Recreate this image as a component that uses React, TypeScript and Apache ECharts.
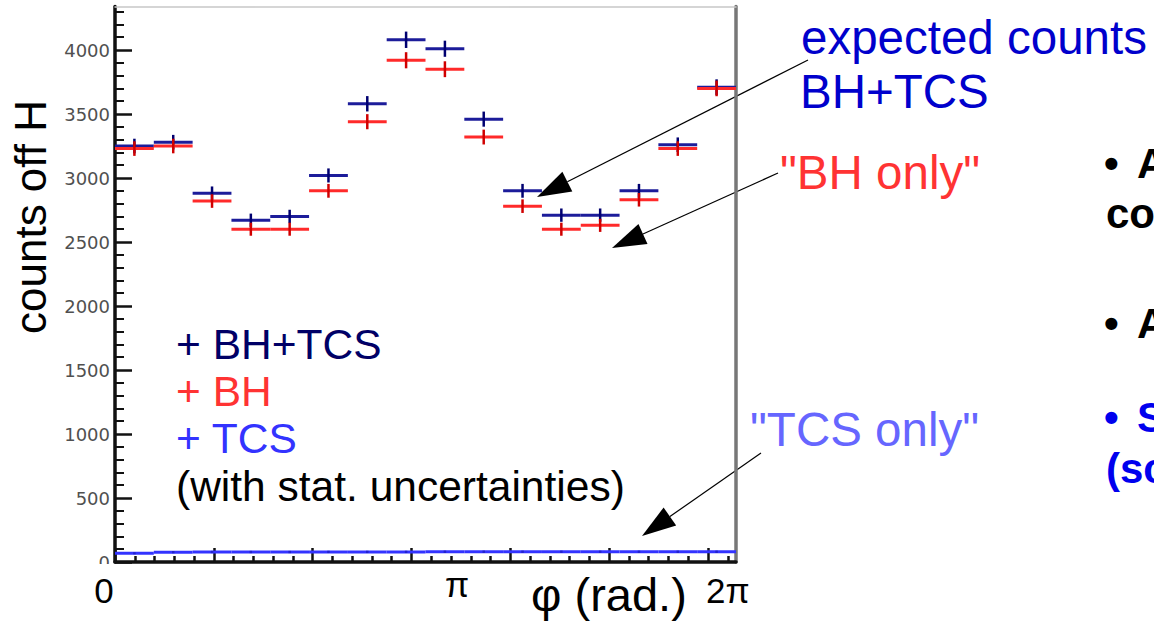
import React, { useEffect, useRef } from "react";
import * as echarts from "echarts";

// φ histogram: 16 bins over [0, 2π]
const PHI_MAX = 2 * Math.PI;
const BIN_COUNT = 16;

// expected counts off H per φ bin, with statistical uncertainties
const bhTcsCounts = [3250, 3280, 2880, 2670, 2700, 3020, 3580, 4080, 4010, 3460, 2900, 2710, 2710, 2900, 3260, 3710];
const bhTcsErrors = [57, 57, 54, 52, 52, 55, 60, 64, 63, 59, 54, 52, 52, 54, 57, 61];
const bhCounts = [3230, 3250, 2820, 2600, 2600, 2900, 3440, 3920, 3850, 3320, 2780, 2600, 2630, 2830, 3230, 3700];
const bhErrors = [57, 57, 53, 51, 51, 54, 59, 63, 62, 58, 53, 51, 51, 53, 57, 61];
const tcsCounts = [68, 77, 78, 78, 78, 79, 79, 79, 80, 80, 80, 80, 80, 80, 80, 80];
const tcsErrors = [8, 9, 9, 9, 9, 9, 9, 9, 9, 9, 9, 9, 9, 9, 9, 9];

// axis ticks
const Y_MAX = 4340;
const yMajorTicks = [0, 500, 1000, 1500, 2000, 2500, 3000, 3500, 4000];
const yMinorTicks = [
  100, 200, 300, 400, 600, 700, 800, 900, 1100, 1200, 1300, 1400, 1600, 1700, 1800, 1900,
  2100, 2200, 2300, 2400, 2600, 2700, 2800, 2900, 3100, 3200, 3300, 3400, 3600, 3700, 3800, 3900,
  4100, 4200, 4300,
];
const xMajorTicks = [0, 1, 2, 3, 4, 5, 6];
const xMinorTicks = [
  0.2, 0.4, 0.6, 0.8, 1.2, 1.4, 1.6, 1.8, 2.2, 2.4, 2.6, 2.8, 3.2, 3.4, 3.6, 3.8,
  4.2, 4.4, 4.6, 4.8, 5.2, 5.4, 5.6, 5.8, 6.2,
];

const SANS = "'Liberation Sans', Arial, sans-serif";

function crossSeries(
  name: string,
  counts: number[],
  errors: number[],
  hColor: string,
  vColor: string,
  z: number
) {
  const w = PHI_MAX / BIN_COUNT;
  const data = counts.map((v, i) => [i * w, (i + 1) * w, v, errors[i]]);
  return {
    type: "custom",
    name,
    data,
    z,
    encode: { x: [0, 1], y: 2 },
    renderItem: (_params: any, api: any) => {
      const lo = api.value(0);
      const hi = api.value(1);
      const v = api.value(2);
      const e = api.value(3);
      const mid = (lo + hi) / 2;
      const a = api.coord([lo, v]);
      const b = api.coord([hi, v]);
      const t = api.coord([mid, v + e]);
      const u = api.coord([mid, v - e]);
      return {
        type: "group",
        children: [
          {
            type: "line",
            shape: { x1: a[0], y1: a[1], x2: b[0], y2: b[1] },
            style: { stroke: hColor, lineWidth: 3 },
          },
          {
            type: "line",
            shape: { x1: t[0], y1: t[1], x2: u[0], y2: u[1] },
            style: { stroke: vColor, lineWidth: 2.5 },
          },
        ],
      };
    },
  };
}

function arrow(from: number[], to: number[]) {
  const dx = from[0] - to[0];
  const dy = from[1] - to[1];
  const len = Math.hypot(dx, dy);
  const ux = dx / len;
  const uy = dy / len;
  const headLen = 34;
  const half = 11;
  const bx = to[0] + ux * headLen;
  const by = to[1] + uy * headLen;
  return [
    {
      type: "line",
      shape: { x1: from[0], y1: from[1], x2: bx, y2: by },
      style: { stroke: "#000", lineWidth: 1.2 },
    },
    {
      type: "polygon",
      shape: {
        points: [
          [to[0], to[1]],
          [bx - uy * half, by + ux * half],
          [bx + uy * half, by - ux * half],
        ],
      },
      style: { fill: "#000" },
    },
  ];
}

function label(text: string, x: number, y: number, size: number, color: string, extra: any = {}) {
  return {
    type: "text",
    x,
    y,
    style: {
      text,
      font: `${extra.weight || "normal"} ${size}px ${SANS}`,
      fill: color,
      textAlign: extra.align || "left",
      textVerticalAlign: "middle",
    },
    rotation: extra.rotation || 0,
    z: 10,
  };
}

export default function App() {
  const ref = useRef<HTMLDivElement>(null);

  useEffect(() => {
    if (!ref.current) return;
    const chart = echarts.init(ref.current, undefined, { renderer: "svg" });

    const tickLine = { color: "#111", width: 2.5 };

    const option: any = {
      animation: false,
      backgroundColor: "#fff",
      grid: { left: 115, right: 418, top: 6.5, bottom: 62, containLabel: false, outerBoundsMode: "none" },
      xAxis: [
        {
          type: "value",
          min: 0,
          max: PHI_MAX,
          position: "bottom",
          axisLine: { show: true, onZero: false, lineStyle: { color: "#111", width: 3.5 } },
          axisTick: { show: true, inside: true, length: 14, customValues: xMajorTicks, lineStyle: tickLine },
          axisLabel: { show: false },
          splitLine: { show: false },
        },
        {
          type: "value",
          min: 0,
          max: PHI_MAX,
          position: "bottom",
          axisLine: { show: false, onZero: false },
          axisTick: { show: true, inside: true, length: 6, customValues: xMinorTicks, lineStyle: tickLine },
          axisLabel: { show: false },
          splitLine: { show: false },
        },
        {
          type: "value",
          min: 0,
          max: PHI_MAX,
          position: "top",
          axisLine: { show: true, onZero: false, lineStyle: { color: "#c8c8c8", width: 1.5 } },
          axisTick: { show: false },
          axisLabel: { show: false },
          splitLine: { show: false },
        },
      ],
      yAxis: [
        {
          type: "value",
          min: 0,
          max: Y_MAX,
          position: "left",
          axisLine: { show: true, onZero: false, lineStyle: { color: "#111", width: 3.5 } },
          axisTick: { show: true, inside: true, length: 17, customValues: yMajorTicks, lineStyle: tickLine },
          axisLabel: {
            show: true,
            customValues: yMajorTicks,
            formatter: (v: number) => String(v),
            color: "#505050",
            fontFamily: "'DejaVu Sans', sans-serif",
            fontSize: 18,
            margin: 5,
          },
          splitLine: { show: false },
        },
        {
          type: "value",
          min: 0,
          max: Y_MAX,
          position: "left",
          axisLine: { show: false, onZero: false },
          axisTick: { show: true, inside: true, length: 9, customValues: yMinorTicks, lineStyle: { color: "#111", width: 2 } },
          axisLabel: { show: false },
          splitLine: { show: false },
        },
        {
          type: "value",
          min: 0,
          max: Y_MAX,
          position: "right",
          axisLine: { show: true, onZero: false, lineStyle: { color: "#777", width: 3.5 } },
          axisTick: { show: false },
          axisLabel: { show: false },
          splitLine: { show: false },
        },
      ],
      series: [
        crossSeries("BH+TCS", bhTcsCounts, bhTcsErrors, "#1c1c9a", "#000070", 3),
        crossSeries("BH", bhCounts, bhErrors, "#ff2a2a", "#d00000", 4),
        crossSeries("TCS", tcsCounts, tcsErrors, "#3333ff", "#2222cc", 5),
      ],
      graphic: [
        // hides the lower half of the y "0" label below the frame
        { type: "rect", shape: { x: 70, y: 564, width: 43, height: 12 }, style: { fill: "#fff" }, z: 9 },
        label("counts off H", 30, 217, 44, "#000", { align: "center", rotation: Math.PI / 2 }),
        label("+ BH+TCS", 176, 344, 42.5, "#000066"),
        label("+ BH", 176, 391, 42.5, "#ff3333"),
        label("+ TCS", 176, 438, 42.5, "#3333ff"),
        label("(with stat. uncertainties)", 176, 486, 42.5, "#000"),
        label("0", 104, 590, 35, "#000", { align: "center" }),
        label("π", 457, 584, 35, "#000", { align: "center" }),
        label("φ (rad.)", 531, 594, 47, "#000"),
        label("2π", 706, 590, 35, "#000"),
        label("expected counts", 801, 37, 47.5, "#0000cc"),
        label("BH+TCS", 800, 91, 47.5, "#0000cc"),
        label("\"BH only\"", 780, 172, 47.5, "#ff3333"),
        label("\"TCS only\"", 750, 429, 47.5, "#6666ff"),
        // bullet points of the neighbouring slide text
        label("•", 1104, 163, 42, "#000", { weight: "bold" }),
        label("A", 1137, 163, 42, "#000", { weight: "bold" }),
        label("co", 1106, 213, 42, "#000", { weight: "bold" }),
        label("•", 1104, 323, 42, "#000", { weight: "bold" }),
        label("A", 1137, 323, 42, "#000", { weight: "bold" }),
        label("•", 1104, 417, 42, "#0000ee", { weight: "bold" }),
        label("S", 1137, 417, 42, "#0000ee", { weight: "bold" }),
        label("(sc", 1106, 468, 42, "#0000ee", { weight: "bold" }),
        ...arrow([808, 60], [537, 197]),
        ...arrow([778, 173], [612, 248]),
        ...arrow([761, 453], [642, 536]),
      ],
    };

    chart.setOption(option);
    return () => chart.dispose();
  }, []);

  return (
    <div
      ref={ref}
      style={{ position: "absolute", left: 0, top: 0, width: 1154, height: 624, background: "#fff" }}
    />
  );
}
